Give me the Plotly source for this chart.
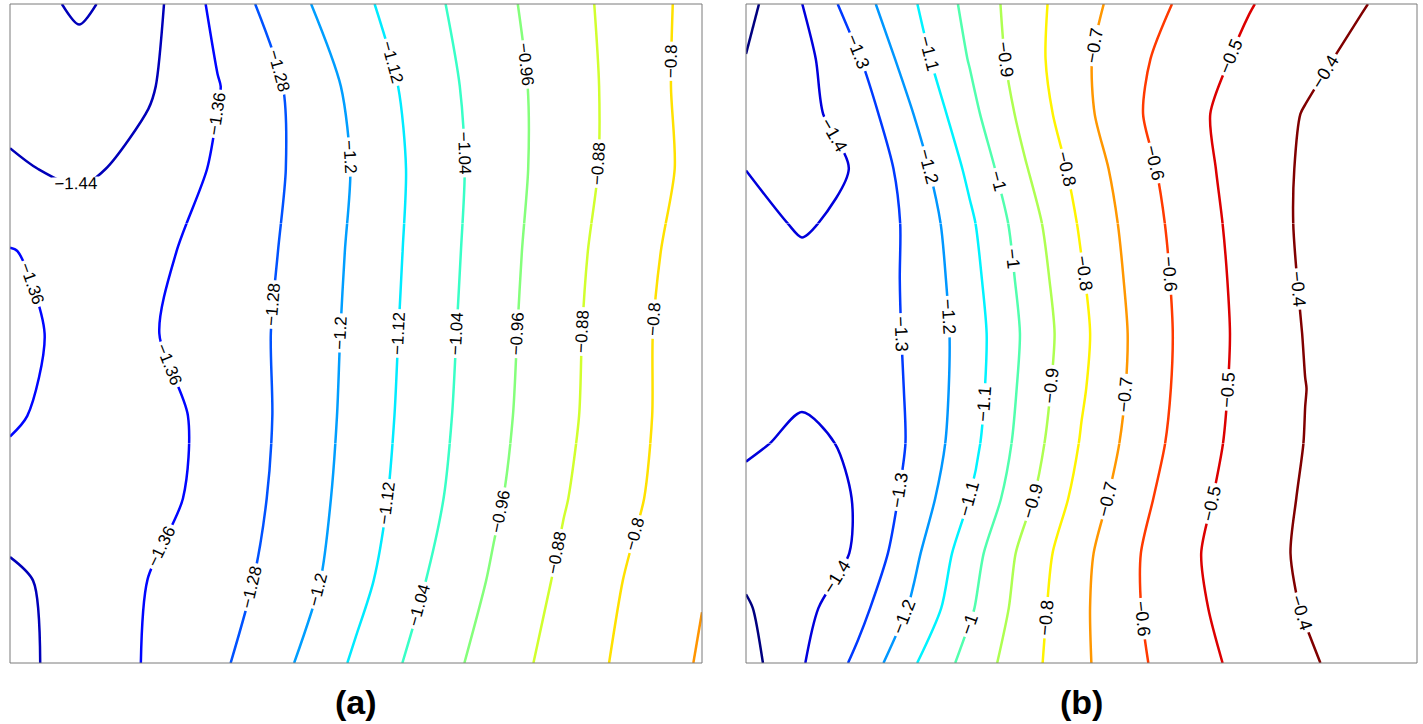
import plotly.graph_objects as go

# ---------------- Panel (a) data: grid of values ----------------
xa = [0, 1, 2, 3, 4, 5, 6, 7, 8, 9, 10]
ya = [0, 1, 2, 3, 4, 5, 6, 7, 8]
za = [
    [-1.464, -1.409, -1.354, -1.296, -1.211, -1.107, -1.007, -0.924, -0.846, -0.776, -0.712],
    [-1.46, -1.40, -1.359, -1.312, -1.25, -1.147, -1.041, -0.949, -0.865, -0.789, -0.725],
    [-1.39, -1.41, -1.391, -1.329, -1.26, -1.166, -1.065, -0.971, -0.885, -0.812, -0.739],
    [-1.35, -1.39, -1.396, -1.333, -1.266, -1.175, -1.076, -0.983, -0.897, -0.821, -0.746],
    [-1.345, -1.375, -1.3675, -1.32, -1.268, -1.18, -1.082, -0.989, -0.901, -0.822, -0.746],
    [-1.357, -1.385, -1.382, -1.328, -1.273, -1.186, -1.088, -0.995, -0.907, -0.83, -0.756],
    [-1.43, -1.455, -1.416, -1.35, -1.279, -1.193, -1.092, -1.001, -0.917, -0.843, -0.772],
    [-1.47, -1.47, -1.449, -1.364, -1.275, -1.179, -1.082, -0.998, -0.919, -0.843, -0.765],
    [-1.47, -1.43, -1.47, -1.337, -1.232, -1.141, -1.063, -0.985, -0.911, -0.841, -0.77],
]
levels_a = dict(start=-1.44, end=-0.71, size=0.08)
clim_a = (-1.5, -0.43)

# ---------------- Panel (b) data ----------------
xb = [0, 1, 2, 3, 4, 5, 6, 7, 8, 9, 10, 11, 12]
yb = [0, 1, 2, 3, 4, 5, 6, 7, 8, 9, 10, 11, 12]
zb = [
    [-1.54, -1.408, -1.277, -1.109, -0.962, -0.836, -0.718, -0.616, -0.534, -0.469, -0.415, -0.36, -0.32],
    [-1.51, -1.428, -1.333, -1.183, -1.014, -0.851, -0.717, -0.606, -0.517, -0.453, -0.394, -0.36, -0.33],
    [-1.47, -1.45, -1.391, -1.222, -1.044, -0.869, -0.726, -0.606, -0.509, -0.445, -0.384, -0.35, -0.32],
    [-1.43, -1.44, -1.395, -1.263, -1.099, -0.923, -0.762, -0.63, -0.525, -0.453, -0.39, -0.35, -0.32],
    [-1.385, -1.42, -1.386, -1.285, -1.134, -0.955, -0.792, -0.656, -0.543, -0.462, -0.398, -0.36, -0.33],
    [-1.375, -1.385, -1.36, -1.287, -1.148, -0.972, -0.812, -0.67, -0.553, -0.467, -0.401, -0.36, -0.33],
    [-1.355, -1.36, -1.345, -1.287, -1.151, -0.983, -0.823, -0.674, -0.557, -0.47, -0.396, -0.35, -0.32],
    [-1.36, -1.37, -1.345, -1.285, -1.137, -0.967, -0.809, -0.664, -0.554, -0.465, -0.389, -0.35, -0.32],
    [-1.37, -1.41, -1.375, -1.276, -1.118, -0.947, -0.787, -0.653, -0.545, -0.459, -0.384, -0.35, -0.32],
    [-1.401, -1.426, -1.395, -1.246, -1.078, -0.906, -0.761, -0.635, -0.531, -0.454, -0.387, -0.35, -0.32],
    [-1.46, -1.425, -1.359, -1.199, -1.03, -0.868, -0.728, -0.609, -0.52, -0.454, -0.395, -0.35, -0.31],
    [-1.497, -1.43, -1.309, -1.145, -0.994, -0.845, -0.719, -0.618, -0.541, -0.478, -0.425, -0.375, -0.33],
    [-1.53, -1.401, -1.243, -1.109, -0.971, -0.842, -0.735, -0.647, -0.571, -0.505, -0.455, -0.406, -0.357],
]
levels_b = dict(start=-1.5, end=-0.39, size=0.1)
clim_b = (-1.5, -0.4)

panel_labels = ["(a)", "(b)"]

# ---------------- styling helpers ----------------
def jet(t):
    t = min(max(t, 0.0), 1.0)
    f = lambda v: int(round(255 * min(max(v, 0.0), 1.0)))
    return "rgb(%d,%d,%d)" % (f(1.5 - abs(4 * t - 3)), f(1.5 - abs(4 * t - 2)), f(1.5 - abs(4 * t - 1)))

def level_colorscale(lv, clim):
    # plotly maps the first..last contour level onto 0..1 of the colorscale
    n = int(round((lv["end"] - lv["start"]) / lv["size"] + 1e-9)) + 1
    n = n if lv["start"] + (n - 1) * lv["size"] <= lv["end"] + 1e-9 else n - 1
    scale = []
    for i in range(n):
        val = lv["start"] + i * lv["size"]
        scale.append([i / (n - 1), jet((val - clim[0]) / (clim[1] - clim[0]))])
    return scale

W, H = 1423, 724
FONT = "Liberation Sans, Arial, Helvetica, sans-serif"
PANEL_TOP, PANEL_BOTTOM = 4, 663
NBANDS = 3

panels = [
    dict(x=xa, y=ya, z=za, lv=levels_a, clim=clim_a, px=(10, 702), font=17, yaxes=["y", "y3", "y4"], xaxis="x"),
    dict(x=xb, y=yb, z=zb, lv=levels_b, clim=clim_b, px=(746, 1417), font=18, yaxes=["y2", "y5", "y6"], xaxis="x2"),
]

fig = go.Figure()
layout = {}
for p in panels:
    cs = level_colorscale(p["lv"], p["clim"])
    ymax = p["y"][-1]
    xname = "xaxis" + p["xaxis"][1:]
    layout[xname] = dict(domain=[p["px"][0] / W, p["px"][1] / W], range=[p["x"][0], p["x"][-1]],
                         visible=False, anchor=p["yaxes"][0])
    for k, yid in enumerate(p["yaxes"]):
        # each horizontal band shows the same contour field, so labels are placed per band
        b0 = PANEL_BOTTOM - k * (PANEL_BOTTOM - PANEL_TOP) / NBANDS
        b1 = PANEL_BOTTOM - (k + 1) * (PANEL_BOTTOM - PANEL_TOP) / NBANDS
        yname = "yaxis" + yid[1:]
        layout[yname] = dict(domain=[(H - b0) / H, (H - b1) / H],
                             range=[ymax * k / NBANDS, ymax * (k + 1) / NBANDS],
                             visible=False, anchor=p["xaxis"])
        fig.add_trace(go.Contour(
            x=p["x"], y=p["y"], z=p["z"], xaxis=p["xaxis"], yaxis=yid,
            autocontour=False,
            contours=dict(coloring="lines", showlabels=True,
                          labelfont=dict(size=p["font"], color="black", family=FONT),
                          labelformat=".3~g", **p["lv"]),
            colorscale=cs, showscale=False,
            line=dict(width=2.5, smoothing=0.8), hoverinfo="skip",
        ))

shapes = []
for p in panels:
    shapes.append(dict(type="rect", xref="paper", yref="paper",
                       x0=p["px"][0] / W, x1=p["px"][1] / W,
                       y0=(H - PANEL_BOTTOM) / H, y1=(H - PANEL_TOP) / H,
                       line=dict(color="#7a7a7a", width=1), fillcolor="rgba(0,0,0,0)", layer="above"))

annotations = []
for p, lab in zip(panels, panel_labels):
    annotations.append(dict(text="<b>%s</b>" % lab, x=(p["px"][0] + p["px"][1]) / 2 / W, y=(H - 702) / H,
                            xref="paper", yref="paper", xanchor="center", yanchor="middle",
                            showarrow=False, font=dict(size=34, color="black", family=FONT)))

fig.update_layout(
    width=W, height=H,
    margin=dict(l=0, r=0, t=0, b=0),
    paper_bgcolor="white", plot_bgcolor="white",
    font=dict(family=FONT),
    showlegend=False,
    shapes=shapes,
    annotations=annotations,
    **layout,
)

fig.write_html("out.html", config={"displayModeBar": False},
               post_script="document.body.style.margin='0px';")
